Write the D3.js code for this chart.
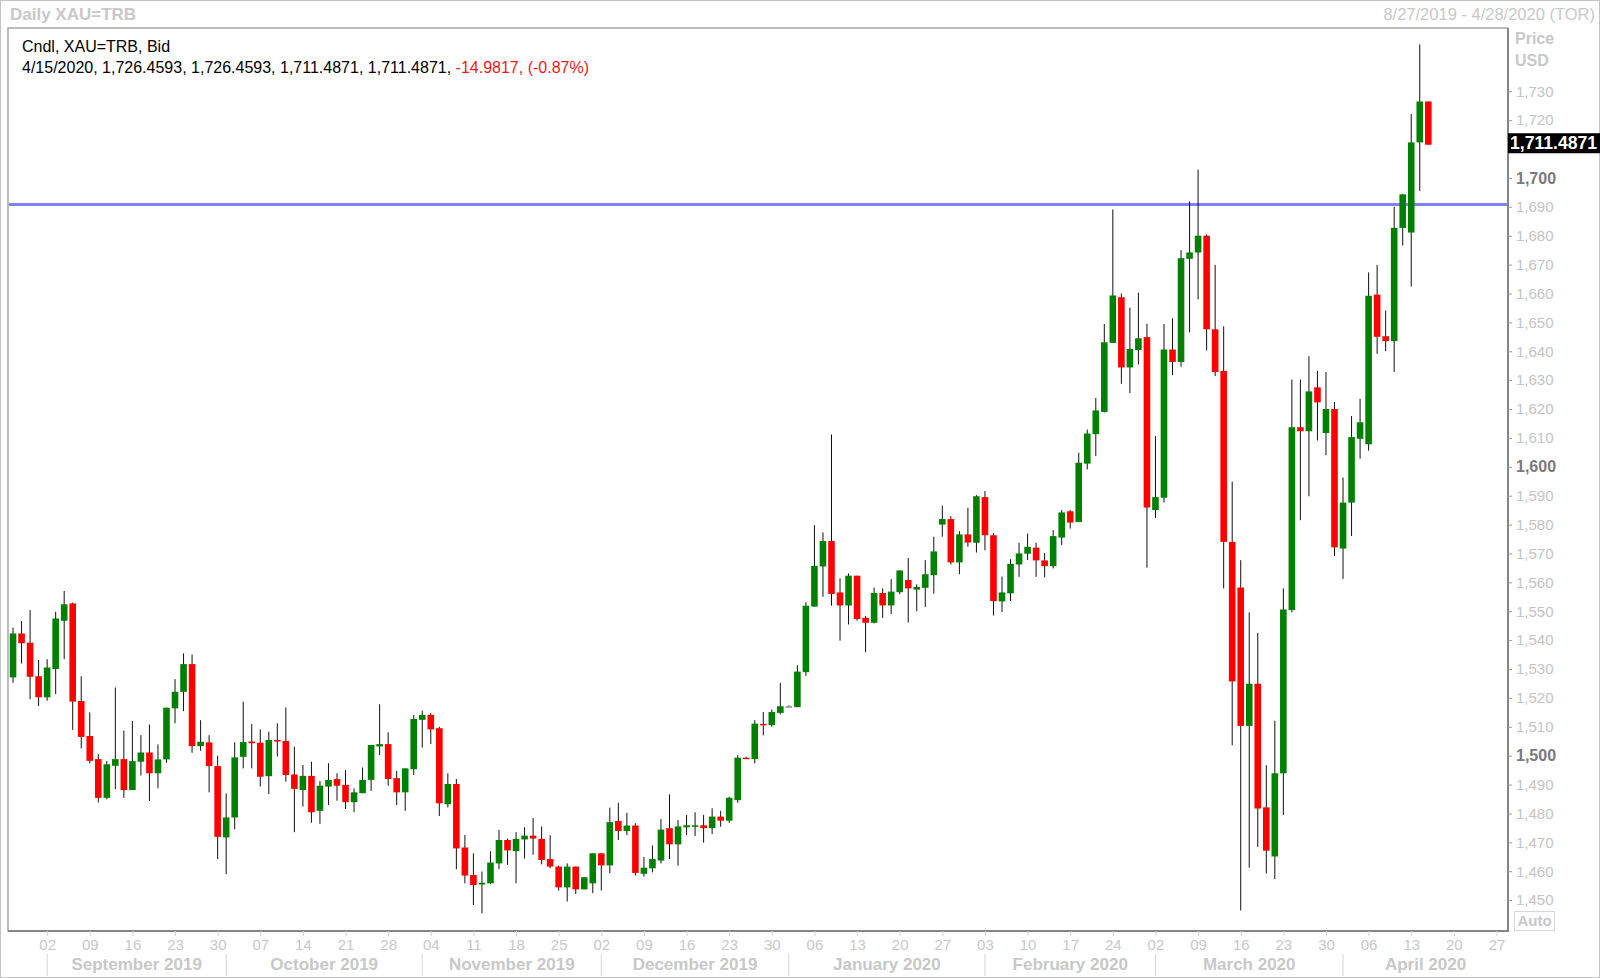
<!DOCTYPE html>
<html><head><meta charset="utf-8">
<script src="https://cdn.jsdelivr.net/npm/d3@7"></script>
<style>html,body{margin:0;padding:0;background:#fff;}svg{display:block;font-family:"Liberation Sans",Arial,sans-serif;}</style>
</head><body><svg id="chart" width="1600" height="978"></svg>
<script>
// ---------------- DATA ----------------
const dates = [
"2019-08-27","2019-08-28","2019-08-29","2019-08-30",
"2019-09-02","2019-09-03","2019-09-04","2019-09-05","2019-09-06","2019-09-09","2019-09-10","2019-09-11","2019-09-12","2019-09-13",
"2019-09-16","2019-09-17","2019-09-18","2019-09-19","2019-09-20","2019-09-23","2019-09-24","2019-09-25","2019-09-26","2019-09-27","2019-09-30",
"2019-10-01","2019-10-02","2019-10-03","2019-10-04","2019-10-07","2019-10-08","2019-10-09","2019-10-10","2019-10-11",
"2019-10-14","2019-10-15","2019-10-16","2019-10-17","2019-10-18","2019-10-21","2019-10-22","2019-10-23","2019-10-24","2019-10-25",
"2019-10-28","2019-10-29","2019-10-30","2019-10-31",
"2019-11-01","2019-11-04","2019-11-05","2019-11-06","2019-11-07","2019-11-08","2019-11-11","2019-11-12","2019-11-13","2019-11-14","2019-11-15",
"2019-11-18","2019-11-19","2019-11-20","2019-11-21","2019-11-22","2019-11-25","2019-11-26","2019-11-27","2019-11-28","2019-11-29",
"2019-12-02","2019-12-03","2019-12-04","2019-12-05","2019-12-06","2019-12-09","2019-12-10","2019-12-11","2019-12-12","2019-12-13",
"2019-12-16","2019-12-17","2019-12-18","2019-12-19","2019-12-20","2019-12-23","2019-12-24","2019-12-25","2019-12-26","2019-12-27",
"2019-12-30","2019-12-31",
"2020-01-01","2020-01-02","2020-01-03","2020-01-06","2020-01-07","2020-01-08","2020-01-09","2020-01-10","2020-01-13","2020-01-14",
"2020-01-15","2020-01-16","2020-01-17","2020-01-20","2020-01-21","2020-01-22","2020-01-23","2020-01-24","2020-01-27","2020-01-28",
"2020-01-29","2020-01-30","2020-01-31",
"2020-02-03","2020-02-04","2020-02-05","2020-02-06","2020-02-07","2020-02-10","2020-02-11","2020-02-12","2020-02-13","2020-02-14",
"2020-02-17","2020-02-18","2020-02-19","2020-02-20","2020-02-21","2020-02-24","2020-02-25","2020-02-26","2020-02-27","2020-02-28",
"2020-03-02","2020-03-03","2020-03-04","2020-03-05","2020-03-06","2020-03-09","2020-03-10","2020-03-11","2020-03-12","2020-03-13",
"2020-03-16","2020-03-17","2020-03-18","2020-03-19","2020-03-20","2020-03-23","2020-03-24","2020-03-25","2020-03-26","2020-03-27",
"2020-03-30","2020-03-31",
"2020-04-01","2020-04-02","2020-04-03","2020-04-06","2020-04-07","2020-04-08","2020-04-09","2020-04-10","2020-04-13","2020-04-14","2020-04-15"
];
const open = [
1527.1,1542.3,1539.1,1527.5,
1520.2,1530.0,1546.7,1552.7,1518.9, 1506.8,1498.8,1485.4,1496.5,1498.8, 1488.1,1497.9,1501.1,1493.9,1498.7, 1516.4,1522.1,1531.7,1503.3,1504.6, 1496.4,
1471.7,1478.6,1499.6,1504.9, 1504.5,1492.9,1505.4,1505.1,1493.5, 1488.1,1493.0,1480.9,1489.3,1491.9, 1489.9,1483.9,1487.0,1491.6,1503.2, 1504.0,1492.2,1487.3,1495.3,
1512.4, 1514.1,1509.5,1483.2,1490.2,1468.2, 1458.7,1455.4,1455.8,1462.7,1470.8, 1467.0,1471.0,1472.3,1471.2,1464.2, 1461.6,1454.4,1461.6,1453.7,1455.8,
1466.2,1462.0,1477.4,1473.9,1475.8, 1459.1,1461.0,1463.7,1474.9,1469.3, 1475.2,1475.4,1475.9,1474.9,1478.9, 1477.5,1484.6,1499.3,1498.8,1511.0, 1510.6,1514.8,
1517.1,1516.8,1528.9, 1551.6,1565.5,1574.3,1556.5,1552.0, 1562.3,1547.7,1546.0,1556.3,1552.0, 1556.6,1560.8,1557.5,1558.1,1562.5, 1580.0,1581.9,1566.9,1576.6,1573.7,
1589.5,1576.3,1553.4,1556.2,1566.2, 1569.9,1572.0,1567.6,1565.6,1575.5, 1584.6,1580.9,1601.1,1611.3,1619.0, 1642.9,1658.7,1634.4,1640.4,1644.9,
1585.0,1589.3,1640.6,1636.3,1672.0, 1674.2,1680.0,1647.6,1633.2,1574.0, 1558.2,1510.3,1524.9,1482.1,1465.1, 1493.9,1550.4,1613.7,1612.3,1627.5, 1611.7,1620.0,
1571.7,1587.6,1609.7, 1607.8,1659.6,1645.2,1643.5,1682.7, 1681.1,1712.3,1726.4593
];
const high = [
1544.3,1546.6,1550.4,1533.1,
1533.4,1549.8,1557.0,1553.0,1527.5, 1515.0,1500.5,1498.1,1523.6,1508.7, 1512.0,1507.1,1510.8,1503.9,1516.6, 1526.5,1535.4,1535.0,1512.3,1507.1, 1500.0,
1486.9,1504.6,1518.7,1510.9, 1509.1,1508.3,1511.2,1516.7,1503.1, 1496.8,1497.9,1491.2,1497.4,1493.9, 1495.0,1488.7,1495.9,1503.7,1517.8, 1508.1,1494.7,1495.6,1514.1,
1515.6, 1514.7,1510.0,1493.9,1491.9,1472.5, 1466.2,1459.9,1466.9,1474.3,1471.3, 1473.5,1475.2,1478.4,1475.5,1472.5, 1461.9,1462.7,1461.6,1457.9,1466.2,
1466.2,1482.0,1483.7,1480.2,1476.6, 1464.9,1468.9,1478.1,1486.6,1477.7, 1479.5,1480.4,1479.5,1481.8,1480.9, 1485.8,1500.2,1499.6,1512.3,1515.1, 1516.0,1525.2,
1517.4,1531.3,1553.1, 1579.8,1577.3,1611.2,1561.4,1563.1, 1562.3,1548.4,1558.2,1557.9,1561.1, 1564.1,1568.4,1559.3,1567.7,1575.8, 1586.5,1582.9,1577.7,1585.8,1590.2,
1591.6,1577.0,1562.0,1568.0,1573.7, 1576.9,1573.7,1570.2,1578.1,1585.0, 1585.0,1604.9,1612.9,1623.8,1649.4, 1689.1,1660.0,1655.1,1660.3,1649.5,
1610.6,1649.4,1651.4,1675.0,1691.9, 1702.9,1680.4,1669.9,1648.6,1594.9, 1567.7,1549.6,1542.5,1496.7,1512.1, 1557.9,1630.2,1630.2,1638.3,1633.2, 1632.8,1622.4,
1596.3,1617.6,1623.5, 1667.3,1669.9,1654.1,1690.0,1694.5, 1722.1,1746.2,1726.4593
];
const low = [
1525.2,1531.9,1519.5,1517.2,
1519.0,1521.3,1533.4,1508.9,1502.5, 1497.3,1483.8,1484.9,1488.4,1485.4, 1488.1,1493.1,1484.3,1488.7,1497.5, 1511.2,1515.4,1501.0,1501.7,1487.3, 1464.2,
1459.0,1474.5,1495.6,1495.6, 1489.3,1486.7,1499.7,1491.0,1473.5, 1482.4,1476.8,1476.4,1482.9,1484.4, 1481.5,1480.4,1487.0,1487.8,1500.2, 1489.6,1482.9,1480.9,1493.3,
1502.8, 1504.0,1479.1,1482.1,1460.7,1455.8, 1448.3,1445.4,1455.6,1460.7,1462.2, 1455.8,1464.4,1465.7,1462.4,1461.0, 1453.3,1449.5,1452.1,1453.7,1452.4,
1453.3,1459.3,1470.8,1472.5,1458.5, 1458.1,1459.6,1462.7,1464.2,1461.9, 1472.5,1472.2,1469.9,1472.9,1475.4, 1476.8,1483.7,1498.9,1497.3,1507.0, 1510.0,1514.3,
1516.9,1516.8,1527.6, 1551.6,1555.0,1551.9,1539.8,1545.4, 1546.7,1535.8,1545.8,1547.7,1549.0, 1555.9,1546.1,1550.0,1551.5,1556.1, 1575.8,1566.2,1562.8,1572.3,1570.3,
1571.1,1548.5,1549.7,1553.5,1561.9, 1567.7,1561.9,1561.7,1564.8,1572.9, 1578.6,1580.9,1599.1,1603.7,1618.8, 1642.9,1628.7,1625.5,1635.4,1565.1,
1582.3,1587.6,1631.7,1634.6,1646.5, 1658.0,1640.3,1631.4,1557.9,1503.6, 1446.4,1461.2,1468.4,1459.2,1457.3, 1479.5,1549.6,1581.5,1589.8,1609.1, 1604.0,1569.1,
1561.2,1576.0,1602.8, 1605.6,1639.1,1640.1,1632.8,1676.6, 1662.4,1695.5,1711.4871
];
const close = [
1542.3,1538.9,1527.3,1520.2,
1530.5,1547.5,1552.4,1518.7,1506.5, 1498.2,1485.4,1497.0,1498.8,1488.1, 1498.1,1501.1,1493.9,1498.7,1516.6, 1522.1,1531.7,1503.3,1504.8,1496.4, 1471.9,
1478.6,1499.4,1504.7,1504.3, 1492.7,1505.4,1504.9,1493.3,1488.5, 1493.0,1480.4,1489.6,1491.6,1489.6, 1483.9,1487.3,1491.6,1503.7,1504.0, 1491.9,1487.3,1495.6,1512.7,
1514.1, 1509.1,1483.5,1490.2,1467.9,1458.5, 1455.2,1456.0,1463.0,1470.8,1467.2, 1471.2,1472.3,1471.3,1463.9,1461.6, 1454.4,1461.6,1453.7,1457.9,1466.2,
1462.0,1477.0,1473.9,1475.8,1459.4, 1461.2,1464.2,1474.4,1469.3,1475.5, 1475.9,1475.9,1474.9,1478.9,1477.5, 1485.4,1499.3,1498.9,1511.1,1510.6, 1515.1,1517.1,
1517.1,1529.1,1551.9, 1565.7,1574.3,1556.0,1552.0,1562.3, 1547.3,1546.0,1556.3,1552.0,1556.8, 1564.1,1557.9,1558.4,1562.8,1570.7, 1581.9,1566.9,1576.6,1573.8,1589.8,
1576.3,1553.5,1556.5,1566.4,1570.0, 1572.3,1567.6,1565.6,1576.0,1584.2, 1580.7,1601.4,1611.5,1619.5,1643.1, 1659.3,1634.4,1640.8,1644.5,1585.9,
1589.5,1640.6,1636.3,1672.2,1674.2, 1680.0,1647.6,1632.8,1574.0,1525.7, 1510.3,1524.9,1481.7,1467.1,1493.9, 1550.6,1613.7,1612.3,1626.1,1622.3, 1620.0,1572.1,
1587.6,1610.3,1615.4, 1659.2,1645.0,1643.5,1682.7,1694.3, 1712.3,1726.4593,1711.4871
];
const yTickValues = [1450,1460,1470,1480,1490,1500,1510,1520,1530,1540,1550,1560,1570,1580,1590,1600,1610,1620,1630,1640,1650,1660,1670,1680,1690,1700,1710,1720,1730];
const weekTicks = ["2019-09-02","2019-09-09","2019-09-16","2019-09-23","2019-09-30","2019-10-07","2019-10-14","2019-10-21","2019-10-28",
"2019-11-04","2019-11-11","2019-11-18","2019-11-25","2019-12-02","2019-12-09","2019-12-16","2019-12-23","2019-12-30",
"2020-01-06","2020-01-13","2020-01-20","2020-01-27","2020-02-03","2020-02-10","2020-02-17","2020-02-24",
"2020-03-02","2020-03-09","2020-03-16","2020-03-23","2020-03-30","2020-04-06","2020-04-13","2020-04-20","2020-04-27"];
const monthStarts = ["2019-09-02","2019-10-01","2019-11-01","2019-12-02","2020-01-01","2020-02-03","2020-03-02","2020-04-01"];
const monthLabels = ["September 2019","October 2019","November 2019","December 2019","January 2020","February 2020","March 2020","April 2020"];
const levelLine = 1690.8;
const rangeStart = "2019-08-27", rangeEnd = "2020-04-28";
const titleText = "Daily XAU=TRB";
const rangeText = "8/27/2019 - 4/28/2020 (TOR)";
const legendLine1 = "Cndl, XAU=TRB, Bid";
const legendLine2 = "4/15/2020, 1,726.4593, 1,726.4593, 1,711.4871, 1,711.4871, ";
const legendChange = "-14.9817, (-0.87%)";

// ---------------- HELPERS ----------------
const origin = Date.UTC(2019, 8, 2); // Monday reference
function wd(s) {
  const p = s.split("-").map(Number);
  const days = Math.round((Date.UTC(p[0], p[1]-1, p[2]) - origin) / 864e5);
  const w = Math.floor(days / 7), r = days - 7*w;
  return w*5 + Math.min(r, 5);
}

const W = 1600, H = 978;
const L = 8, R = 1508, T = 28, B = 931;
const svg = d3.select("#chart");
const gridGray = "#c8c8c8";

const x = d3.scaleLinear().domain([wd(rangeStart) - 0.59, wd(rangeEnd) + 0.35]).range([L, R]);
const y = d3.scaleLinear().domain([1439.3, 1751.9]).range([B, T]);

const data = dates.map((d, i) => ({d, i: wd(d), o: open[i], h: high[i], l: low[i], c: close[i]}));
const last = data[data.length - 1];

// outer frame
svg.append("rect").attr("x", 0.5).attr("y", 0.5).attr("width", W-1).attr("height", H-1)
  .attr("fill", "#fff").attr("stroke", "#c4c4c4");

// title
svg.append("text").attr("x", 10).attr("y", 20).attr("font-size", 17).attr("font-weight", "bold")
  .attr("fill", gridGray).text(titleText);
svg.append("text").attr("x", 1595).attr("y", 20).attr("font-size", 16.5).attr("text-anchor", "end")
  .attr("fill", gridGray).text(rangeText);

// plot frame
svg.append("rect").attr("x", L).attr("y", T).attr("width", R-L).attr("height", B-T)
  .attr("fill", "#fff").attr("stroke", "#a8a8a8").attr("stroke-width", 1.5);
svg.append("line").attr("x1", R).attr("x2", R).attr("y1", T).attr("y2", B+1).attr("stroke", "#858585").attr("stroke-width", 2);
svg.append("line").attr("x1", L).attr("x2", R+1).attr("y1", B).attr("y2", B).attr("stroke", "#858585").attr("stroke-width", 2);

svg.append("clipPath").attr("id", "plotclip").append("rect")
  .attr("x", L+1).attr("y", T+1).attr("width", R-L-2).attr("height", B-T-2);
const plot = svg.append("g").attr("clip-path", "url(#plotclip)");

// level line
plot.append("line").attr("x1", L).attr("x2", R).attr("y1", y(levelLine)).attr("y2", y(levelLine))
  .attr("stroke", "#8080f8").attr("stroke-width", 3);

// candles
const bw = 6.6;
const cg = plot.selectAll("g.candle").data(data).join("g").attr("class", "candle");
cg.append("line")
  .attr("x1", d => x(d.i)).attr("x2", d => x(d.i))
  .attr("y1", d => y(d.h)).attr("y2", d => y(d.l))
  .attr("stroke", "#111").attr("stroke-width", 1);
cg.append("rect")
  .attr("x", d => x(d.i) - bw/2).attr("width", bw)
  .attr("y", d => Math.min(y(d.o), y(d.c)))
  .attr("height", d => Math.max(1.5, Math.abs(y(d.o) - y(d.c))))
  .attr("fill", d => d.c > d.o ? "#008000" : (d.c < d.o ? "#ff0000" : "#909090"));

// legend text
const lg = svg.append("g").attr("font-size", 16).attr("fill", "#000");
lg.append("text").attr("x", 22).attr("y", 52).text(legendLine1);
const l2 = lg.append("text").attr("x", 22).attr("y", 73);
l2.append("tspan").text(legendLine2);
l2.append("tspan").attr("fill", "#f01818").text(legendChange);

// y axis (label hidden where the last-price tag covers it, as in the original)
const tagTop = y(last.c) - 11.5, tagBot = tagTop + 20;
const yAxis = svg.append("g").attr("transform", `translate(${R},0)`)
  .call(d3.axisRight(y).tickValues(yTickValues).tickSize(4).tickPadding(4).tickFormat(d3.format(",")));
yAxis.select(".domain").remove();
yAxis.selectAll(".tick line").attr("stroke", "#9a9a9a");
yAxis.selectAll(".tick text")
  .attr("font-family", "Liberation Sans, Arial, sans-serif")
  .attr("font-size", d => d % 100 === 0 ? 16 : 15)
  .attr("font-weight", d => d % 100 === 0 ? "bold" : "normal")
  .attr("fill", d => d % 100 === 0 ? "#7a7a7a" : "#c4c4c4");
yAxis.selectAll(".tick").filter(d => y(d) > tagTop - 4 && y(d) < tagBot + 4).select("text").remove();

svg.append("text").attr("x", 1515).attr("y", 44).attr("font-size", 16).attr("font-weight", "bold").attr("fill", gridGray).text("Price");
svg.append("text").attr("x", 1515).attr("y", 66).attr("font-size", 16).attr("font-weight", "bold").attr("fill", gridGray).text("USD");

// last price tag
svg.append("rect").attr("x", R).attr("y", tagTop).attr("width", W - R).attr("height", 20).attr("fill", "#000");
svg.append("text").attr("x", R + 2).attr("y", y(last.c) + 4.6).attr("font-size", 17.6).attr("font-weight", "bold")
  .attr("fill", "#fff").text(d3.format(",.4f")(last.c));

// Auto box
svg.append("rect").attr("x", 1514.5).attr("y", 911.5).attr("width", 40).attr("height", 19)
  .attr("fill", "#fff").attr("stroke", "#d8d8d8");
svg.append("text").attr("x", 1534.5).attr("y", 926).attr("text-anchor", "middle").attr("font-size", 15)
  .attr("font-weight", "bold").attr("fill", gridGray).text("Auto");

// x axis
const xAxis = svg.append("g").attr("transform", `translate(0,${B})`)
  .call(d3.axisBottom(x).tickValues(weekTicks.map(wd)).tickSize(5).tickPadding(3)
    .tickFormat((d, i) => weekTicks[i].slice(8)));
xAxis.select(".domain").remove();
xAxis.selectAll(".tick line").attr("stroke", "#d0d0d0");
xAxis.selectAll(".tick text").attr("font-family", "Liberation Sans, Arial, sans-serif")
  .attr("font-size", 15).attr("fill", gridGray);

// month separators and labels
const sepX = monthStarts.map(wd).map(x);
svg.selectAll("line.msep").data(sepX).join("line").attr("class", "msep")
  .attr("x1", d => d).attr("x2", d => d).attr("y1", 954).attr("y2", 976)
  .attr("stroke", "#d6d6d6");
svg.selectAll("text.mlab").data(monthLabels).join("text").attr("class", "mlab")
  .attr("x", (d, i) => (sepX[i] + (i + 1 < sepX.length ? sepX[i+1] : R)) / 2)
  .attr("y", 970).attr("text-anchor", "middle").attr("font-size", 17).attr("font-weight", "bold")
  .attr("fill", gridGray).text(d => d);
</script></body></html>
